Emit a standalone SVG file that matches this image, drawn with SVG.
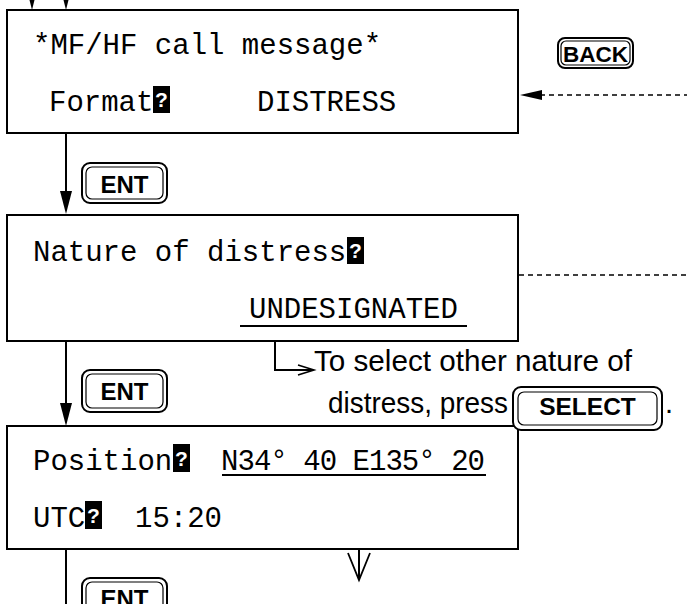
<svg xmlns="http://www.w3.org/2000/svg" width="687" height="604" viewBox="0 0 687 604">
  <style>
    .screen { fill: #fff; stroke: #000; stroke-width: 2; }
    .lcd { font-family: "Liberation Mono", "Courier New", monospace; font-size: 29px; fill: #000; }
    .cursor { fill: #000; }
    .cursor-q { font-family: "Liberation Sans", Arial, sans-serif; font-weight: bold; font-size: 21px; fill: #fff; text-anchor: middle; }
    .key-outer { fill: #fff; stroke: #000; stroke-width: 2; }
    .key-inner { fill: none; stroke: #000; stroke-width: 1.2; }
    .key-label { font-family: "Liberation Sans", Arial, sans-serif; font-weight: bold; fill: #000; text-anchor: middle; }
    .note { font-family: "Liberation Sans", Arial, sans-serif; font-size: 29px; fill: #000; }
    .line { fill: none; stroke: #000; stroke-width: 2; }
    .dash { fill: none; stroke: #000; stroke-width: 1.6; stroke-dasharray: 5 4; }
    .head { fill: #000; }
  </style>

  <!-- flow connectors -->
  <g id="connectors">
    <!-- incoming lines at the top -->
    <line class="line" x1="32" y1="0" x2="32" y2="6"/>
    <polygon class="head" points="32,10 28,-6 36,-6"/>
    <line class="line" x1="66" y1="0" x2="66" y2="6"/>
    <polygon class="head" points="66,10 62,-6 70,-6"/>

    <!-- ENT: format -> nature of distress -->
    <line class="line" x1="66" y1="133" x2="66" y2="196"/>
    <polygon class="head" points="66,214 60,191 72,191"/>

    <!-- ENT: nature of distress -> position -->
    <line class="line" x1="66" y1="341" x2="66" y2="406"/>
    <polygon class="head" points="66,426 60,403 72,403"/>

    <!-- ENT: position -> next screen -->
    <line class="line" x1="66" y1="549" x2="66" y2="604"/>

    <!-- BACK return (dashed) -->
    <line class="dash" x1="540" y1="95" x2="687" y2="95"/>
    <polygon class="head" points="520,95 542,90 542,100"/>

    <!-- dashed line leaving nature of distress -->
    <line class="dash" x1="519" y1="275" x2="687" y2="275"/>

    <!-- UNDESIGNATED -> select note -->
    <polyline class="line" points="275,326 275,370 312,370"/>
    <polyline class="line" points="298,365 314,370 298,375" style="stroke-width:1.6"/>

    <!-- position value -> onward -->
    <line class="line" x1="359" y1="475" x2="359" y2="580"/>
    <polyline class="line" points="348,553 359,580 370,553" style="stroke-width:1.8"/>
  </g>

  <!-- screen: call message / format -->
  <g id="screen-format">
    <rect class="screen" x="7" y="10" width="511" height="123"/>
    <text class="lcd" x="33" y="54">*MF/HF call message*</text>
    <text class="lcd" x="49" y="111">Format</text>
    <rect class="cursor" x="153" y="86" width="17" height="27"/>
    <text class="cursor-q" x="161.5" y="107">?</text>
    <text class="lcd" x="257" y="111">DISTRESS</text>
  </g>

  <!-- screen: nature of distress -->
  <g id="screen-nature">
    <rect class="screen" x="7" y="215" width="511" height="126"/>
    <text class="lcd" x="33" y="261">Nature of distress</text>
    <rect class="cursor" x="347" y="237" width="17" height="27"/>
    <text class="cursor-q" x="355.5" y="258">?</text>
    <text class="lcd" x="249" y="318">UNDESIGNATED</text>
    <line class="line" x1="240" y1="326" x2="467" y2="326"/>
  </g>

  <!-- screen: position and time -->
  <g id="screen-position">
    <rect class="screen" x="7" y="426" width="511" height="123"/>
    <text class="lcd" x="33" y="470">Position</text>
    <rect class="cursor" x="173" y="444" width="17" height="28"/>
    <text class="cursor-q" x="181.5" y="466">?</text>
    <text class="lcd" x="221" y="470" textLength="264" lengthAdjust="spacing">N34° 40 E135° 20</text>
    <line class="line" x1="222" y1="475" x2="486" y2="475"/>
    <text class="lcd" x="33" y="527">UTC</text>
    <rect class="cursor" x="85" y="501" width="17" height="28"/>
    <text class="cursor-q" x="93.5" y="523">?</text>
    <text class="lcd" x="135" y="527">15:20</text>
  </g>

  <!-- keys -->
  <g id="key-back">
    <rect class="key-outer" x="558" y="38" width="75" height="30" rx="7"/>
    <rect class="key-inner" x="561" y="41" width="69" height="24" rx="5"/>
    <text class="key-label" x="595.5" y="62" font-size="22.5">BACK</text>
  </g>

  <g id="key-ent-1">
    <rect class="key-outer" x="82" y="163" width="85" height="40" rx="8"/>
    <rect class="key-inner" x="86" y="167" width="77" height="32" rx="6"/>
    <text class="key-label" x="124.5" y="193" font-size="24">ENT</text>
  </g>

  <g id="key-ent-2">
    <rect class="key-outer" x="82" y="370" width="85" height="42" rx="8"/>
    <rect class="key-inner" x="86" y="374" width="77" height="34" rx="6"/>
    <text class="key-label" x="124.5" y="400" font-size="24">ENT</text>
  </g>

  <g id="key-ent-3">
    <rect class="key-outer" x="82" y="578" width="85" height="42" rx="8"/>
    <rect class="key-inner" x="86" y="582" width="77" height="34" rx="6"/>
    <text class="key-label" x="124.5" y="607" font-size="24">ENT</text>
  </g>

  <!-- note about choosing another nature of distress -->
  <g id="note-select">
    <text class="note" x="314" y="371" textLength="318" lengthAdjust="spacingAndGlyphs">To select other nature of</text>
    <text class="note" x="328" y="413" textLength="180" lengthAdjust="spacingAndGlyphs">distress, press</text>
    <g id="key-select">
      <rect class="key-outer" x="513" y="387" width="149" height="43" rx="8"/>
      <rect class="key-inner" x="518" y="392" width="139" height="33" rx="6"/>
      <text class="key-label" x="587.5" y="415" font-size="24.5">SELECT</text>
    </g>
    <text class="note" x="665" y="413">.</text>
  </g>
</svg>
